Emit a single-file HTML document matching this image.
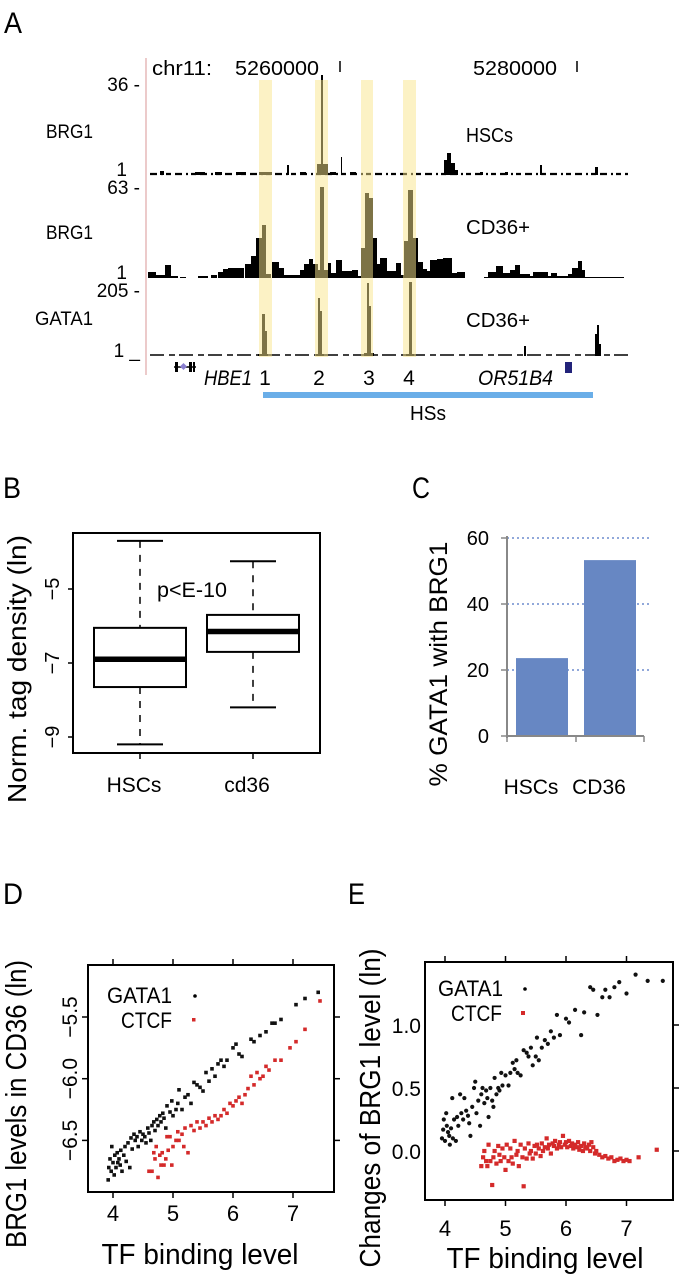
<!DOCTYPE html>
<html><head><meta charset="utf-8"><style>
html,body{margin:0;padding:0;background:#fff;}
svg{display:block;font-family:"Liberation Sans",Arial,sans-serif;}
</style></head><body>
<svg id="fig" width="681" height="1280" viewBox="0 0 681 1280" xmlns="http://www.w3.org/2000/svg">
<!-- Panel A static text -->
<g>
<text x="4" y="33" font-size="30" lengthAdjust="spacingAndGlyphs" textLength="18">A</text>
<line x1="146" y1="58" x2="146" y2="375" stroke="#e0a8a8" stroke-width="1.2"/>
<text x="152" y="75" font-size="20" lengthAdjust="spacingAndGlyphs" textLength="60">chr11:</text>
<text x="235" y="75" font-size="20" lengthAdjust="spacingAndGlyphs" textLength="84">5260000</text>
<line x1="340" y1="61" x2="340" y2="72" stroke="#000" stroke-width="1.5"/>
<text x="473" y="75" font-size="20" lengthAdjust="spacingAndGlyphs" textLength="84">5280000</text>
<line x1="577" y1="61" x2="577" y2="72" stroke="#000" stroke-width="1.5"/>
<g font-size="19" text-anchor="end">
<text x="140" y="91">36 -</text>
<text x="93" y="138" lengthAdjust="spacingAndGlyphs" textLength="47">BRG1</text>
<text x="127" y="176">1</text>
<text x="140" y="194">63 -</text>
<text x="93" y="239" lengthAdjust="spacingAndGlyphs" textLength="47">BRG1</text>
<text x="127" y="279">1</text>
<text x="140" y="297">205 -</text>
<text x="93" y="325" lengthAdjust="spacingAndGlyphs" textLength="58">GATA1</text>
<text x="140" y="357">1 _</text>
</g>
<g font-size="20">
<text x="466" y="142" lengthAdjust="spacingAndGlyphs" textLength="47">HSCs</text>
<text x="466" y="234" lengthAdjust="spacingAndGlyphs" textLength="64">CD36+</text>
<text x="466" y="327" lengthAdjust="spacingAndGlyphs" textLength="64">CD36+</text>
</g>
<g id="tracks"></g>
<g>
<line x1="174" y1="367" x2="196" y2="367" stroke="#000" stroke-width="1.5"/>
<rect x="175" y="362" width="3" height="10" fill="#000"/>
<rect x="189" y="362" width="3" height="10" fill="#000"/>
<rect x="193" y="362" width="2" height="10" fill="#000"/>
<rect x="181" y="364" width="5" height="5" fill="#8a7fd0" transform="rotate(45 183.5 366.5)"/>
</g>
<text x="204" y="385" font-size="21" font-style="italic" lengthAdjust="spacingAndGlyphs" textLength="48">HBE1</text>
<g font-size="21" text-anchor="middle">
<text x="265" y="385">1</text>
<text x="319" y="385">2</text>
<text x="369" y="385">3</text>
<text x="409" y="385">4</text>
</g>
<text x="478" y="385" font-size="21" font-style="italic" lengthAdjust="spacingAndGlyphs" textLength="75">OR51B4</text>
<rect x="565" y="362" width="7" height="11" fill="#22237a"/>
<rect x="263" y="392" width="330" height="6" fill="#6aaee8"/>
<text x="428" y="420" font-size="20" text-anchor="middle" lengthAdjust="spacingAndGlyphs" textLength="36">HSs</text>
</g>

<!-- Panel B -->
<g>
<text x="3" y="498" font-size="30" lengthAdjust="spacingAndGlyphs" textLength="18">B</text>
<rect x="73" y="533" width="247" height="220" fill="none" stroke="#000" stroke-width="2"/>
<text transform="translate(26,669) rotate(-90)" font-size="26" text-anchor="middle" lengthAdjust="spacingAndGlyphs" textLength="268">Norm. tag density (ln)</text>
<text x="192" y="597" font-size="21" text-anchor="middle" lengthAdjust="spacingAndGlyphs" textLength="70">p&lt;E-10</text>
<g id="boxB"></g>
</g>

<!-- Panel C -->
<g>
<text x="412" y="498" font-size="30" lengthAdjust="spacingAndGlyphs" textLength="18">C</text>
<text transform="translate(447,664) rotate(-90)" font-size="25" text-anchor="middle" lengthAdjust="spacingAndGlyphs" textLength="245">% GATA1 with BRG1</text>
<g id="barC"></g>
</g>

<!-- Panel D -->
<g>
<text x="3" y="904" font-size="30" lengthAdjust="spacingAndGlyphs" textLength="20">D</text>
<rect x="88" y="965" width="246" height="227" fill="none" stroke="#000" stroke-width="2"/>
<text transform="translate(26,1104) rotate(-90)" font-size="29" text-anchor="middle" lengthAdjust="spacingAndGlyphs" textLength="288">BRG1 levels in CD36 (ln)</text>
<text x="200" y="1264" font-size="29" text-anchor="middle" lengthAdjust="spacingAndGlyphs" textLength="197">TF binding level</text>
<text x="172" y="1003" font-size="22" text-anchor="end" lengthAdjust="spacingAndGlyphs" textLength="65">GATA1</text>
<circle cx="195" cy="996" r="1.8" fill="#000"/>
<text x="172" y="1028" font-size="22" text-anchor="end" lengthAdjust="spacingAndGlyphs" textLength="51">CTCF</text>
<rect x="192" y="1018" width="3.5" height="3.5" fill="#d42a2a"/>
<g id="scatD"></g>
</g>

<!-- Panel E -->
<g>
<text x="348" y="904" font-size="30" lengthAdjust="spacingAndGlyphs" textLength="17">E</text>
<rect x="425" y="962" width="248" height="238" fill="none" stroke="#000" stroke-width="2"/>
<text transform="translate(380,1108) rotate(-90)" font-size="29" text-anchor="middle" lengthAdjust="spacingAndGlyphs" textLength="319">Changes of BRG1 level (ln)</text>
<text x="545" y="1268" font-size="29" text-anchor="middle" lengthAdjust="spacingAndGlyphs" textLength="197">TF binding level</text>
<text x="503" y="996" font-size="22" text-anchor="end" lengthAdjust="spacingAndGlyphs" textLength="65">GATA1</text>
<circle cx="525" cy="989" r="1.8" fill="#000"/>
<text x="502" y="1021" font-size="22" text-anchor="end" lengthAdjust="spacingAndGlyphs" textLength="51">CTCF</text>
<rect x="521" y="1011" width="4" height="4" fill="#d42a2a"/>
<g id="scatE"></g>
</g>
</svg>
<script>
// ---------- Panel A track data (track coordinate units, signal units) ----------
const hscStart = [321,317,259,287,341,444,447,451,455,540,595,300,330,195,215,160,236,350,480,505];
const hscEnd   = [323,328,272,289,342,447,451,455,458,542,598,306,336,205,222,164,246,356,483,508];
const hscSignal= [100,11,3,10,18,15,22,12,5,10,8,3,3,3,3,4,3,3,3,3];
const cd36Start = [148,156,165,171,180,198,211,218,223,228,245,251,256,262,266,272,279,284,289,300,304,309,313,318,320,324,328,331,336,342,352,358,361,365,369,373,377,380,387,391,396,401,404,408,413,418,423,427,430,437,443,452,457,484,488,496,503,510,515,520,530,533,540,548,551,557,568,572,578,582,585];
const cd36End   = [156,165,171,178,186,208,217,223,228,244,251,256,262,266,271,279,284,289,300,304,309,313,318,320,324,328,331,336,342,352,358,361,365,369,373,377,380,387,391,396,401,404,408,413,418,423,427,430,437,443,452,457,465,488,496,503,510,515,520,530,533,540,548,551,557,568,572,578,582,585,624];
const cd36Signal= [6,3,13,2,1,2,3,6,9,10,14,22,40,53,4,16,10,3,3,8,14,19,14,8,91,8,15,5,18,7,8,2,30,85,80,40,14,20,7,7,15,3,37,88,40,16,9,7,18,19,20,5,6,1,6,12,5,8,13,4,2,6,6,2,5,2,4,10,17,8,1];
const gataStart = [262,265,318,320,367,369,409,524,595,597,599,258,316,364,406];
const gataEnd   = [265,267,320,322,369,371,412,526,597,599,601,268,324,374,414];
const gataSignal= [42,25,58,45,73,50,74,10,22,31,12,2,2,3,2];
const hlStart = [259,315,361,403];
const hlEnd   = [272,328,373,416];

// ---------- Panel B box plot data ----------
const bGroups = ['HSCs','cd36'];
const bLower = [-9.2,-8.2];
const bQ1 = [-7.65,-6.7];
const bMed = [-6.9,-6.15];
const bQ3 = [-6.05,-5.7];
const bUpper = [-3.7,-4.25];
const bTicks = [-5,-7,-9];

// ---------- Panel C bar data ----------
const cCats = ['HSCs','CD36'];
const cVals = [23.6,53.3];
const cTicks = [0,20,40,60];

// ---------- Panel D scatter data ----------
const dGataX = [3.92,3.93,3.95,3.97,3.98,4.0,4.02,4.03,4.05,4.07,4.08,4.1,4.12,4.13,4.15,4.18,4.2,4.22,4.25,4.28,4.3,4.32,4.35,4.37,4.4,4.42,4.45,4.48,4.5,4.53,4.55,4.58,4.6,4.63,4.65,4.68,4.7,4.73,4.75,4.78,4.8,4.83,4.85,4.88,4.9,4.95,4.98,5.0,5.05,5.08,5.1,5.15,5.2,5.25,5.3,5.35,5.4,5.45,5.5,5.55,5.6,5.65,5.7,5.75,5.8,5.85,5.9,6.0,6.05,6.1,6.15,6.3,6.35,6.45,6.55,6.65,6.7,6.8,7.05,7.2,7.42];
const dGataY = [-6.82,-6.72,-6.65,-6.75,-6.55,-6.68,-6.78,-6.62,-6.72,-6.6,-6.68,-6.65,-6.7,-6.58,-6.75,-6.62,-6.55,-6.67,-6.52,-6.72,-6.48,-6.57,-6.45,-6.5,-6.47,-6.55,-6.43,-6.5,-6.45,-6.47,-6.52,-6.4,-6.44,-6.5,-6.38,-6.35,-6.42,-6.33,-6.38,-6.3,-6.35,-6.28,-6.32,-6.4,-6.22,-6.27,-6.18,-6.3,-6.25,-6.2,-6.09,-6.25,-6.15,-6.13,-6.2,-6.03,-6.05,-6.07,-6.1,-5.95,-6.02,-5.92,-5.98,-5.88,-5.85,-5.9,-5.85,-5.75,-5.72,-5.8,-5.82,-5.68,-5.7,-5.65,-5.62,-5.55,-5.55,-5.52,-5.4,-5.35,-5.3];
const dCtcfX = [4.6,4.65,4.68,4.7,4.72,4.75,4.78,4.8,4.82,4.85,4.88,4.9,4.92,4.95,4.98,5.0,5.05,5.08,5.1,5.15,5.18,5.2,5.25,5.3,5.35,5.4,5.45,5.5,5.55,5.6,5.65,5.7,5.75,5.8,5.85,5.9,5.95,6.0,6.05,6.1,6.15,6.2,6.25,6.3,6.35,6.4,6.45,6.5,6.55,6.6,6.7,6.8,6.95,7.05,7.2,7.45];
const dCtcfY = [-6.75,-6.75,-6.6,-6.65,-6.55,-6.8,-6.62,-6.7,-6.6,-6.7,-6.65,-6.47,-6.58,-6.47,-6.7,-6.55,-6.5,-6.43,-6.5,-6.45,-6.55,-6.4,-6.6,-6.38,-6.42,-6.35,-6.4,-6.35,-6.38,-6.32,-6.35,-6.3,-6.33,-6.3,-6.25,-6.28,-6.2,-6.22,-6.18,-6.15,-6.2,-6.13,-6.08,-5.98,-6.05,-5.95,-6.0,-5.98,-5.9,-5.93,-5.85,-5.85,-5.75,-5.7,-5.6,-5.37];
const dXTicks = [4,5,6,7];
const dYTicks = [-5.5,-6.0,-6.5];

// ---------- Panel E scatter data ----------
const eGataX = [3.95,3.97,3.98,4.0,4.02,4.03,4.05,4.07,4.08,4.1,4.12,4.13,4.15,4.18,4.2,4.22,4.25,4.27,4.3,4.32,4.35,4.38,4.4,4.42,4.45,4.48,4.5,4.52,4.55,4.58,4.6,4.62,4.65,4.68,4.7,4.72,4.75,4.78,4.8,4.82,4.85,4.88,4.9,4.93,4.95,5.0,5.05,5.08,5.12,5.15,5.18,5.2,5.25,5.3,5.35,5.38,5.42,5.45,5.5,5.52,5.55,5.6,5.65,5.7,5.75,5.8,5.85,5.9,6.0,6.05,6.15,6.25,6.3,6.4,6.45,6.52,6.6,6.65,6.72,6.8,6.88,7.0,7.15,7.35,7.6];
const eGataY = [0.1,0.17,0.25,0.08,0.3,0.2,0.15,0.12,0.05,0.18,0.42,0.1,0.25,0.08,0.27,0.2,0.45,0.3,0.25,0.42,0.32,0.28,0.22,0.12,0.35,0.5,0.55,0.3,0.4,0.2,0.45,0.5,0.38,0.48,0.42,0.27,0.5,0.4,0.35,0.58,0.45,0.5,0.48,0.62,0.52,0.6,0.52,0.62,0.7,0.65,0.72,0.62,0.6,0.8,0.78,0.75,0.82,0.68,0.75,0.9,0.72,0.82,0.88,0.85,0.95,0.9,1.08,0.92,1.05,1.02,1.12,0.92,1.1,1.3,1.28,1.08,1.22,1.28,1.22,1.3,1.34,1.25,1.4,1.35,1.35];
const eCtcfX = [4.6,4.63,4.65,4.68,4.7,4.72,4.75,4.78,4.8,4.82,4.85,4.88,4.9,4.92,4.95,4.98,5.0,5.02,5.05,5.08,5.1,5.12,5.15,5.18,5.2,5.22,5.25,5.28,5.3,5.32,5.35,5.38,5.4,5.42,5.45,5.48,5.5,5.52,5.55,5.58,5.6,5.62,5.65,5.68,5.7,5.72,5.75,5.78,5.8,5.82,5.85,5.88,5.9,5.92,5.95,5.98,6.0,6.02,6.05,6.08,6.1,6.12,6.15,6.18,6.2,6.22,6.25,6.28,6.3,6.32,6.35,6.38,6.4,6.42,6.45,6.48,6.5,6.55,6.6,6.65,6.7,6.75,6.8,6.85,6.9,6.95,7.0,7.05,7.2,7.5];
const eCtcfY = [-0.12,-0.05,0.0,-0.08,-0.12,0.05,-0.08,-0.27,-0.05,0.0,-0.1,0.04,-0.03,-0.08,0.02,-0.05,-0.15,0.05,-0.08,0.02,-0.05,-0.1,0.08,-0.03,0.0,-0.12,0.05,-0.05,-0.28,0.02,-0.06,0.06,-0.02,0.0,-0.06,0.04,-0.02,0.05,0.02,-0.04,0.06,0.0,0.03,0.1,0.02,0.05,-0.02,0.06,0.04,0.08,0.02,0.05,0.07,0.03,0.12,0.05,0.07,0.03,0.08,0.04,0.06,0.02,0.05,0.03,0.07,0.01,0.04,0.0,0.06,0.03,0.02,0.05,0.0,0.07,0.03,-0.02,0.0,-0.03,-0.05,-0.04,-0.06,-0.05,-0.08,-0.07,-0.06,-0.08,-0.07,-0.08,-0.05,0.01];
const eXTicks = [4,5,6,7];
const eYTicks = [0.0,0.5,1.0];

const NS = 'http://www.w3.org/2000/svg';
function mk(tag, attrs, parent){
  const el = document.createElementNS(NS, tag);
  for (const k in attrs) el.setAttribute(k, attrs[k]);
  parent.appendChild(el);
  return el;
}

// ---------- Panel A drawing ----------
const tracks = document.getElementById('tracks');
const trackX = p => p;
const base1 = 175, base2 = 278, base3 = 356;
let bl;
bl = mk('line', {x1:150,y1:base1-1,x2:628,y2:base1-1,stroke:'#000','stroke-width':2.2,'stroke-dasharray':'7 4 2 3 5 4'}, tracks);


bl = mk('line', {x1:150,y1:base3-1,x2:628,y2:base3-1,stroke:'#000','stroke-width':1.6,'stroke-dasharray':'14 5 6 4'}, tracks);


function drawTrack(starts, ends, sig, base, name){
  for (let i=0;i<starts.length;i++){
    const x0 = trackX(starts[i]), x1 = trackX(ends[i]);
    const r = mk('rect', {x:x0, y:base - sig[i], width:Math.max(1,x1-x0), height:sig[i], fill:'#000'}, tracks);
    
    
  }
}
drawTrack(hscStart, hscEnd, hscSignal, base1, 'hsc-brg1-signal');
drawTrack(cd36Start, cd36End, cd36Signal, base2, 'cd36-brg1-signal');
drawTrack(gataStart, gataEnd, gataSignal, base3, 'cd36-gata1-signal');
for (let i=0;i<hlStart.length;i++){
  const h = mk('rect', {x:trackX(hlStart[i]), y:80, width:hlEnd[i]-hlStart[i], height:277, fill:'rgb(250,230,140)', 'fill-opacity':0.5}, tracks);
  
  
}

// ---------- Panel B drawing ----------
const gB = document.getElementById('boxB');
const yB = v => 589 + (-5 - v) * 37;
const xB = i => 140 + i * 113;
for (const t of bTicks){
  const tk = mk('line', {x1:68,y1:yB(t),x2:73,y2:yB(t),stroke:'#000','stroke-width':1.5}, gB);
  
  
  const tl = mk('text', {transform:`translate(59,${yB(t)}) rotate(-90)`, 'font-size':20, 'text-anchor':'middle'}, gB);
  tl.textContent = '\u2212' + Math.abs(t);
  
  
}
for (let i=0;i<bGroups.length;i++){
  const cx = xB(i);
  const g = mk('g', {}, gB);
  
  
  mk('line', {x1:cx,y1:yB(bUpper[i]),x2:cx,y2:yB(bQ3[i]),stroke:'#000','stroke-width':1.5,'stroke-dasharray':'7 7'}, g);
  mk('line', {x1:cx,y1:yB(bQ1[i]),x2:cx,y2:yB(bLower[i]),stroke:'#000','stroke-width':1.5,'stroke-dasharray':'7 7'}, g);
  mk('line', {x1:cx-23,y1:yB(bUpper[i]),x2:cx+23,y2:yB(bUpper[i]),stroke:'#000','stroke-width':2}, g);
  mk('line', {x1:cx-23,y1:yB(bLower[i]),x2:cx+23,y2:yB(bLower[i]),stroke:'#000','stroke-width':2}, g);
  mk('rect', {x:cx-46,y:yB(bQ3[i]),width:92,height:yB(bQ1[i])-yB(bQ3[i]),fill:'#fff',stroke:'#000','stroke-width':2}, g);
  mk('line', {x1:cx-46,y1:yB(bMed[i]),x2:cx+46,y2:yB(bMed[i]),stroke:'#000','stroke-width':5.5}, g);
  const xt = mk('line', {x1:cx,y1:753,x2:cx,y2:759,stroke:'#000','stroke-width':1.5}, gB);
  
  
  const xl = mk('text', {x:cx-6, y:792, 'font-size':21, 'text-anchor':'middle'}, gB);
  xl.textContent = bGroups[i];
  
  
}

// ---------- Panel C drawing ----------
const gC = document.getElementById('barC');
const yC = v => 736 - v * 3.3;
const xC = i => 542 + i * 68;
for (const t of cTicks){
  if (t > 0){
    const gl = mk('line', {x1:507,y1:yC(t),x2:650,y2:yC(t),stroke:'#4f74c4','stroke-width':1.3,'stroke-dasharray':'2 3'}, gC);
    
    
  }
  const tk = mk('line', {x1:501,y1:yC(t),x2:507,y2:yC(t),stroke:'#888','stroke-width':1.5}, gC);
  
  
  const tl = mk('text', {x:489, y:yC(t)+7, 'font-size':20, 'text-anchor':'end'}, gC);
  tl.textContent = String(t);
  
  
}
for (let i=0;i<cCats.length;i++){
  const b = mk('rect', {x:xC(i)-26, y:yC(cVals[i]), width:52, height:yC(0)-yC(cVals[i]), fill:'#6787c3'}, gC);
  
  
  const l = mk('text', {x:xC(i)-11, y:794, 'font-size':21, 'text-anchor':'middle'}, gC);
  l.textContent = cCats[i];
  
  
}
let ax = mk('line', {x1:507,y1:536,x2:507,y2:738,stroke:'#888','stroke-width':2}, gC);


ax = mk('line', {x1:506,y1:736,x2:644,y2:736,stroke:'#888','stroke-width':2}, gC);


for (const tx of [507,576,644]){
  const t = mk('line', {x1:tx,y1:736,x2:tx,y2:742,stroke:'#888','stroke-width':1.5}, gC);
  
  
}

// ---------- Panel D drawing ----------
const gD = document.getElementById('scatD');
const xD = v => 113 + (v - 4) * 60;
const yD = v => 1017 + (-5.5 - v) * 123.4;
for (const t of dXTicks){
  let e = mk('line', {x1:xD(t),y1:1192,x2:xD(t),y2:1198,stroke:'#000','stroke-width':1.5}, gD);
  
  
  e = mk('line', {x1:xD(t),y1:959,x2:xD(t),y2:965,stroke:'#000','stroke-width':1.5}, gD);
  
  
  e = mk('text', {x:xD(t), y:1221, 'font-size':22, 'text-anchor':'middle'}, gD);
  e.textContent = String(t);
  
  
}
for (const t of dYTicks){
  let e = mk('line', {x1:82,y1:yD(t),x2:88,y2:yD(t),stroke:'#000','stroke-width':1.5}, gD);
  
  
  e = mk('line', {x1:334,y1:yD(t),x2:340,y2:yD(t),stroke:'#000','stroke-width':1.5}, gD);
  
  
  e = mk('text', {transform:`translate(77,${yD(t)}) rotate(-90)`, 'font-size':21, 'text-anchor':'middle'}, gD);
  e.textContent = '\u2212' + Math.abs(t).toFixed(1);
  
  
}
for (let i=0;i<dGataX.length;i++){
  const p = mk('rect', {x:xD(dGataX[i])-1.8, y:yD(dGataY[i])-1.8, width:3.6, height:3.6, fill:'#111'}, gD);
  
  
}
for (let i=0;i<dCtcfX.length;i++){
  const p = mk('rect', {x:xD(dCtcfX[i])-1.8, y:yD(dCtcfY[i])-1.8, width:3.6, height:3.6, fill:'#d42a2a'}, gD);
  
  
}

// ---------- Panel E drawing ----------
const gE = document.getElementById('scatE');
const xE = v => 445 + (v - 4) * 60.5;
const yE = v => 1151 - v * 126;
for (const t of eXTicks){
  let e = mk('line', {x1:xE(t),y1:1200,x2:xE(t),y2:1206,stroke:'#000','stroke-width':1.5}, gE);
  
  
  e = mk('line', {x1:xE(t),y1:956,x2:xE(t),y2:962,stroke:'#000','stroke-width':1.5}, gE);
  
  
  e = mk('text', {x:xE(t), y:1236, 'font-size':22, 'text-anchor':'middle'}, gE);
  e.textContent = String(t);
  
  
}
for (const t of eYTicks){
  let e = mk('line', {x1:673,y1:yE(t),x2:679,y2:yE(t),stroke:'#000','stroke-width':1.5}, gE);
  
  
  e = mk('text', {x:421, y:yE(t)+8, 'font-size':21, 'text-anchor':'end'}, gE);
  e.textContent = t.toFixed(1);
  
  
}
for (let i=0;i<eGataX.length;i++){
  const p = mk('circle', {cx:xE(eGataX[i]), cy:yE(eGataY[i]), r:2.1, fill:'#111'}, gE);
  
  
}
for (let i=0;i<eCtcfX.length;i++){
  const p = mk('rect', {x:xE(eCtcfX[i])-2.1, y:yE(eCtcfY[i])-2.1, width:4.2, height:4.2, fill:'#d42a2a'}, gE);
  
  
}
</script>
</body></html>
